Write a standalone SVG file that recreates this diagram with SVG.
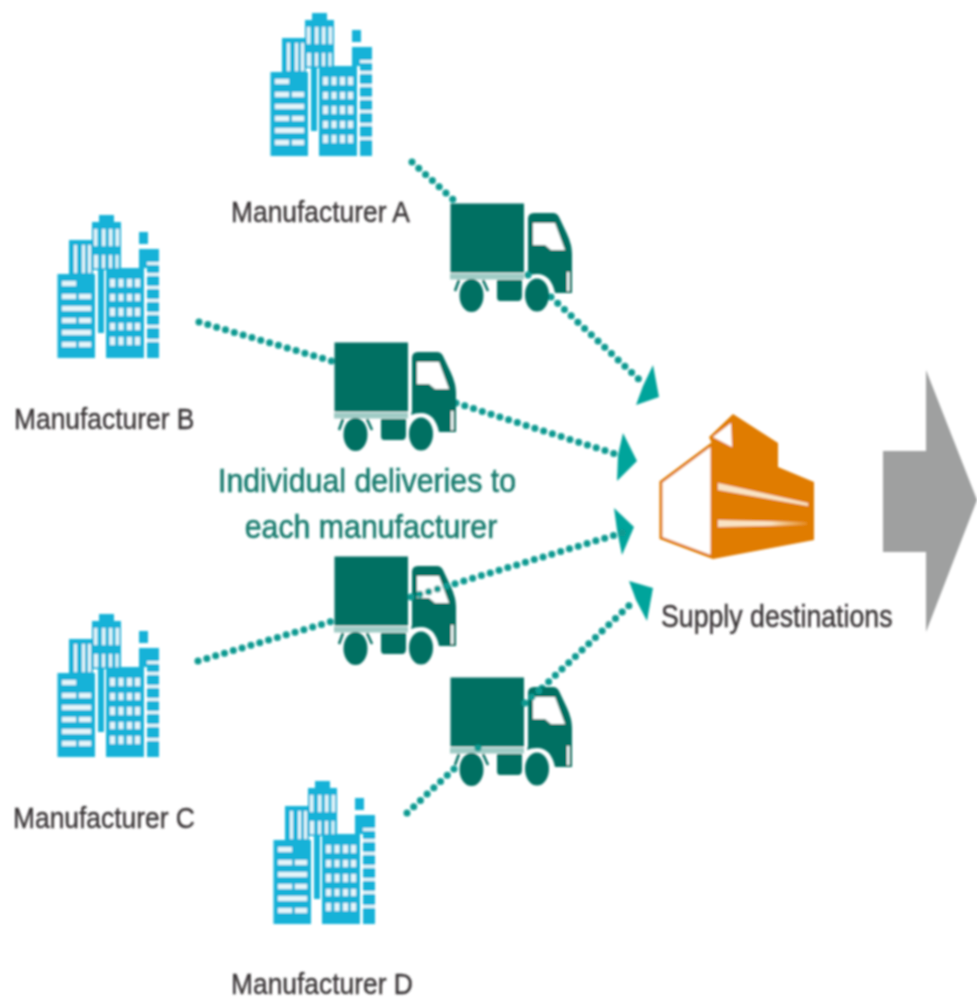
<svg xmlns="http://www.w3.org/2000/svg" xmlns:xlink="http://www.w3.org/1999/xlink" width="977" height="1000" viewBox="0 0 977 1000">
<style>
text{font-family:"Liberation Sans",Arial,sans-serif}
.lbl{font-size:26.4px;fill:#3a3637;stroke:#3a3637;stroke-width:.35}
.big{font-size:30.3px;fill:#167a6d;stroke:#167a6d;stroke-width:.5;text-anchor:middle}
.dots{fill:none;stroke:#0a9a91;stroke-width:7;stroke-linecap:round;stroke-dasharray:0 9.2}
.head{fill:#03a49b}
.bl{fill:#19b2d8}
.wh{fill:#e4f5fa}
.wt{fill:#fff}
.tr{fill:#046f62}
</style>
<defs>
<filter id="soft" x="-5%" y="-5%" width="110%" height="110%"><feGaussianBlur stdDeviation="0.9"/></filter>
<linearGradient id="fade"><stop offset="0" stop-color="#f9e3c4"/><stop offset="0.6" stop-color="#f9e3c4"/><stop offset="1" stop-color="#f9e3c4" stop-opacity="0.15"/></linearGradient>
<g id="bldg">
<rect class="bl" x="52" y="13" width="15" height="8"/>
<rect class="bl" x="45" y="20" width="29" height="48"/>
<g class="wh"><rect x="47" y="27" width="3.500" height="17"/><rect x="55" y="27" width="3.500" height="17"/><rect x="62" y="27" width="3.500" height="17"/><rect x="68.500" y="27" width="3.500" height="17"/>
<rect x="47" y="53" width="4" height="13"/><rect x="55" y="53" width="3" height="13"/><rect x="62" y="53" width="3" height="13"/><rect x="68.500" y="53" width="3" height="13"/></g>
<rect class="bl" x="22" y="38" width="24" height="34"/>
<g class="wh"><rect x="27" y="43" width="3" height="28"/><rect x="35" y="43" width="3" height="28"/><rect x="41" y="43" width="3" height="28"/></g>
<rect class="bl" x="51" y="66" width="6" height="65"/>
<rect class="bl" x="10.500" y="72" width="37.500" height="84"/>
<g class="wh"><rect x="15" y="79" width="14" height="5"/><rect x="15" y="92" width="14" height="5"/><rect x="32" y="92" width="12" height="5"/><rect x="15" y="104" width="29" height="5"/><rect x="15" y="116" width="14" height="5"/><rect x="32" y="116" width="12" height="5"/><rect x="15" y="128" width="29" height="5"/><rect x="15" y="140" width="14" height="5"/><rect x="32" y="140" width="12" height="5"/></g>
<rect class="bl" x="59" y="66" width="38" height="90"/>
<g class="wh">
<rect x="63" y="77" width="5" height="8"/><rect x="71.500" y="77" width="5" height="8"/><rect x="80" y="77" width="5" height="8"/><rect x="88" y="77" width="5" height="8"/>
<rect x="63" y="92" width="5" height="7"/><rect x="71.500" y="92" width="5" height="7"/><rect x="80" y="92" width="5" height="7"/><rect x="88" y="92" width="5" height="7"/>
<rect x="63" y="106" width="5" height="8"/><rect x="71.500" y="106" width="5" height="8"/><rect x="80" y="106" width="5" height="8"/><rect x="88" y="106" width="5" height="8"/>
<rect x="63" y="121" width="5" height="7"/><rect x="71.500" y="121" width="5" height="7"/><rect x="80" y="121" width="5" height="7"/><rect x="88" y="121" width="5" height="7"/>
<rect x="63" y="135" width="5" height="8"/><rect x="71.500" y="135" width="5" height="8"/><rect x="80" y="135" width="5" height="8"/><rect x="88" y="135" width="5" height="8"/>
</g>
<rect class="bl" x="92" y="30" width="9" height="12"/>
<rect class="bl" x="92" y="47" width="20" height="10"/>
<rect class="bl" x="92" y="57" width="8" height="9"/>
<rect class="bl" x="100" y="57" width="12" height="99"/>
<g class="wh"><rect x="100" y="60" width="12" height="3"/><rect x="100" y="71" width="12" height="3"/><rect x="100" y="84" width="12" height="3"/><rect x="100" y="97" width="12" height="3"/><rect x="100" y="110" width="12" height="3"/><rect x="100" y="123" width="12" height="3"/><rect x="100" y="137" width="12" height="3"/></g>
</g>
<g id="truck">
<rect class="tr" x="50.500" y="53.500" width="73.500" height="69"/>
<rect fill="#9fcbc5" x="50" y="123.500" width="74" height="6"/>
<path d="M59,130 L55,141 M83,130 L88,141" stroke="#046f62" stroke-width="2.500" fill="none"/>
<ellipse class="tr" cx="71.500" cy="145.500" rx="12" ry="16.500"/>
<ellipse class="tr" cx="137" cy="145" rx="12" ry="16.500"/>
<path class="tr" d="M97,130H122V146Q122,151 118,151H100Q97,151 97,147Z"/>
<path class="tr" d="M128,122V69Q128,63 134,63H153Q157,63 159,67L167,84Q172,95 172,104V143H155Q151,124 137,124Q131,124 127,126Z"/>
<path class="wt" d="M133,73H155L165,100H151L145,95H133Z"/>
<rect class="wt" x="167" y="122" width="2.500" height="19"/>
</g>
</defs>
<g filter="url(#soft)">
<g id="connectors">
<path class="dots" d="M412,162L458,204"/>
<path class="dots" d="M551,297L645,385"/>
<path class="dots" d="M199,322L335,362"/>
<path class="dots" d="M456,403L625,457"/>
<path class="dots" d="M198,661L333,621"/>
<path class="dots" d="M407,813L456,767"/>
<path class="dots" d="M542,688L635,600"/>
<polygon class="head" points="653,365 659,397 636,405 643,386"/>
<polygon class="head" points="623,433 637,461 617,481 618,455"/>
<polygon class="head" points="614,508 634,527 622,555 617,530"/>
<polygon class="head" points="629,581 653,588 647,621 636,600"/>
</g>
<g id="manufacturer-a"><use xlink:href="#bldg" href="#bldg" transform="translate(260,0)"/><text class="lbl" transform="translate(231,222) scale(1,1.15)">Manufacturer A</text></g>
<g id="manufacturer-b"><use xlink:href="#bldg" href="#bldg" transform="translate(47,202)"/><text class="lbl" transform="translate(14,429) scale(1,1.15)">Manufacturer B</text></g>
<g id="manufacturer-c"><use xlink:href="#bldg" href="#bldg" transform="translate(47,601)"/><text class="lbl" transform="translate(13,828) scale(1,1.15)">Manufacturer C</text></g>
<g id="manufacturer-d"><use xlink:href="#bldg" href="#bldg" transform="translate(263,768)"/><text class="lbl" transform="translate(231,994) scale(1,1.15)">Manufacturer D</text></g>
<g id="truck-a"><use xlink:href="#truck" href="#truck" transform="translate(400,150)"/></g>
<g id="truck-b"><use xlink:href="#truck" href="#truck" transform="translate(284,289)"/></g>
<g id="truck-c"><use xlink:href="#truck" href="#truck" transform="translate(284,503)"/></g>
<g id="truck-d"><use xlink:href="#truck" href="#truck" transform="translate(400,624)"/></g>
<g id="connectors-over">
<path class="dots" d="M411,597L625,532"/>
<path class="dots" d="M478,748L478,748.100"/>
<path class="dots" d="M525,703L542,688"/>
<path class="dots" d="M528,275L528,275.100"/>
</g>
<g id="label"><text class="big" transform="translate(367,492) scale(1,1.12)">Individual deliveries to</text><text class="big" transform="translate(371,538) scale(1,1.12)">each manufacturer</text></g>
<g id="supply-destinations">
<path d="M712,444L661,482V538L712,557Z" fill="#fff" stroke="#e07b00" stroke-width="3"/>
<path d="M709,437L733,414L778,443V467L814,482V540L713,559V443L712,444Z" fill="#e07b00"/>
<polygon class="wt" points="713,437 731,423 732,447"/>
<polygon fill="#f9e3c4" points="718,483 808,503 808,506 718,490"/>
<polygon fill="url(#fade)" points="718,520 807,522 807,525 718,527"/>
<text class="lbl" style="font-size:26.7px" transform="translate(661,627) scale(1,1.15)">Supply destinations</text>
</g>
<polygon id="next-arrow" fill="#9fa0a0" points="883,451 926,451 926,370 977,500 926,632 926,552 883,552"/>
</g>
</svg>
